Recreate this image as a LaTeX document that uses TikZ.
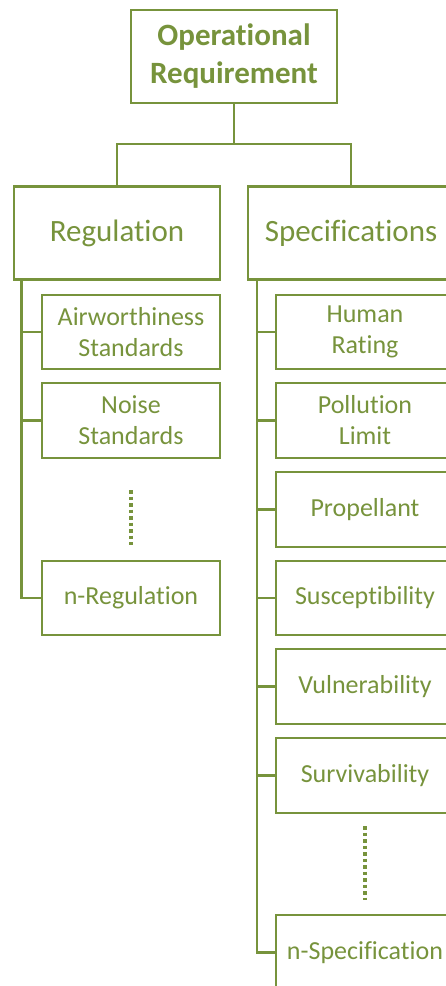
\documentclass[tikz,border=0pt]{standalone}
\usepackage{fontspec}
\setmainfont{Carlito}[Ligatures=NoCommon]
\definecolor{olive}{RGB}{119,147,60}
\begin{document}
\begin{tikzpicture}[x=1pt,y=-1pt,
  every node/.style={draw=olive,line width=2.4pt,text=olive,align=center,inner sep=0pt},
  topbox/.style={minimum width=206pt,minimum height=93pt,font=\fontsize{31}{38}\selectfont\bfseries},
  midbox/.style={minimum width=206pt,minimum height=93pt,font=\fontsize{31}{37}\selectfont},
  leafbox/.style={minimum width=178pt,minimum height=74.5pt,font=\fontsize{26}{31}\selectfont},
  link/.style={draw=olive,line width=2.4pt},
  dots/.style={draw=olive,line width=3.2pt,dash pattern=on 3.5pt off 3pt}]
\useasboundingbox (0,0) rectangle (446,986);
\clip (0,0) rectangle (446,986);
\node[topbox] (top) at (234,56.5) {Operational\\Requirement};
\node[midbox] (reg) at (117,233) {Regulation};
\node[midbox] (spec) at (351,233) {Specifications};
\node[leafbox] (aw) at (131,332) {Airworthiness\\Standards};
\node[leafbox] (noise) at (131,420.5) {Noise\\Standards};
\node[leafbox] (nreg) at (131,598) {n-Regulation};
\node[leafbox] (hr) at (365,332) {Human\\Rating};
\node[leafbox] (pl) at (365,420.5) {Pollution\\Limit};
\node[leafbox] (prop) at (365,509.5) {Propellant};
\node[leafbox] (susc) at (365,598) {Susceptibility};
\node[leafbox] (vuln) at (365,686.5) {Vulnerability};
\node[leafbox] (surv) at (365,775.5) {Survivability};
\node[leafbox] (nspec) at (365,952.5) {n-Specification};
\coordinate (bus) at (234,144);
\coordinate (rtrunk) at (21.5,279.5);
\coordinate (strunk) at (257,279.5);
\coordinate (d1a) at (131,490);
\coordinate (d1b) at (131,545);
\coordinate (d2a) at (365,826);
\coordinate (d2b) at (365,900);
\draw[link] (top.south) -- (bus);
\draw[link] (bus) -| (reg.north);
\draw[link] (bus) -| (spec.north);
\draw[link] (rtrunk) |- (nreg.west);
\draw[link] (aw.west -| rtrunk) -- (aw.west);
\draw[link] (noise.west -| rtrunk) -- (noise.west);
\draw[link] (strunk) |- (nspec.west);
\foreach \n in {hr,pl,prop,susc,vuln,surv}
  \draw[link] (\n.west -| strunk) -- (\n.west);
\draw[dots] (d1a) -- (d1b);
\draw[dots] (d2a) -- (d2b);
\end{tikzpicture}
\end{document}
